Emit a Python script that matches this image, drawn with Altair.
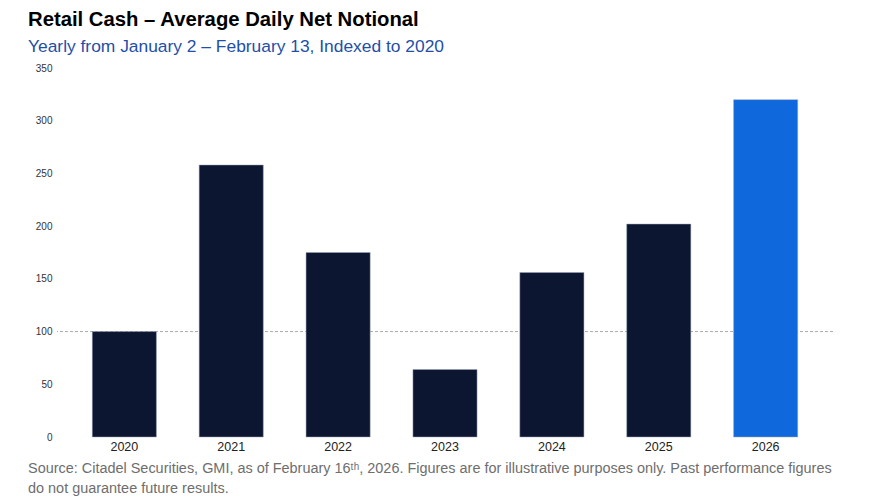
import altair as alt
import pandas as pd

years = ["2020", "2021", "2022", "2023", "2024", "2025", "2026"]
values = [100, 258, 175, 64, 156, 202, 320]
highlight = ["base", "base", "base", "base", "base", "base", "current"]
ref_level = [100]
y_ticks = [0, 50, 100, 150, 200, 250, 300, 350]

title_text = "Retail Cash \u2013 Average Daily Net Notional"
subtitle_text = "Yearly from January 2 \u2013 February 13, Indexed to 2020"
footer_text = ("Source: Citadel Securities, GMI, as of February 16\u1d57\u02b0, 2026. Figures are for illustrative purposes only. Past performance figures\n"
               "do not guarantee future results.")

FONT = "Liberation Sans"

df = pd.DataFrame({"year": years, "value": values, "kind": highlight})
ref_df = pd.DataFrame({"level": ref_level})
foot_df = pd.DataFrame({"t": [footer_text]})

x_enc = alt.X("year:N", sort=years, title=None,
              scale=alt.Scale(paddingInner=0.4, paddingOuter=0.33),
              axis=alt.Axis(labelAngle=0, domain=False, ticks=False, labelPadding=3,
                            labelFontSize=12.5, labelColor="#222222", labelFont=FONT))

bars = alt.Chart(df).mark_bar(stroke="#9aa6bb", strokeWidth=0.5).encode(
    x=x_enc,
    y=alt.Y("value:Q", title=None,
            scale=alt.Scale(domain=[0, 350], nice=False),
            axis=alt.Axis(values=y_ticks, grid=False, domain=False, ticks=False,
                          labelPadding=5, labelFontSize=10, labelColor="#333333",
                          labelFont=FONT)),
    color=alt.Color("kind:N", scale=alt.Scale(domain=["base", "current"],
                                              range=["#0c1631", "#0f68dc"]), legend=None),
)

rule = alt.Chart(ref_df).mark_rule(color="#aaaaaa", strokeDash=[3, 2], strokeWidth=1).encode(
    y=alt.Y("level:Q"),
)

footer = alt.Chart(foot_df).mark_text(
    align="left", baseline="alphabetic", lineBreak="\n", lineHeight=19.5,
    fontSize=14.45, font=FONT, color="#6e6e6e"
).encode(
    x=alt.value(-29), y=alt.value(405), text="t:N"
)

chart = alt.layer(rule, bars, footer).properties(
    width=776, height=369,
    autosize=alt.AutoSizeParams(type="none"),
    padding={"left": 49, "top": 60, "right": 43, "bottom": 62},
    title=alt.TitleParams(
        text=title_text, subtitle=subtitle_text, anchor="start", frame="group",
        dx=-29, offset=8, font=FONT, fontSize=20.3, fontWeight="bold", color="#000000",
        subtitleFont=FONT, subtitleFontSize=17.4, subtitleColor="#1f4fa8", subtitlePadding=7,
    ),
).configure_view(stroke=None)

chart.save("out.html", embed_options={"renderer": "svg", "actions": False})
